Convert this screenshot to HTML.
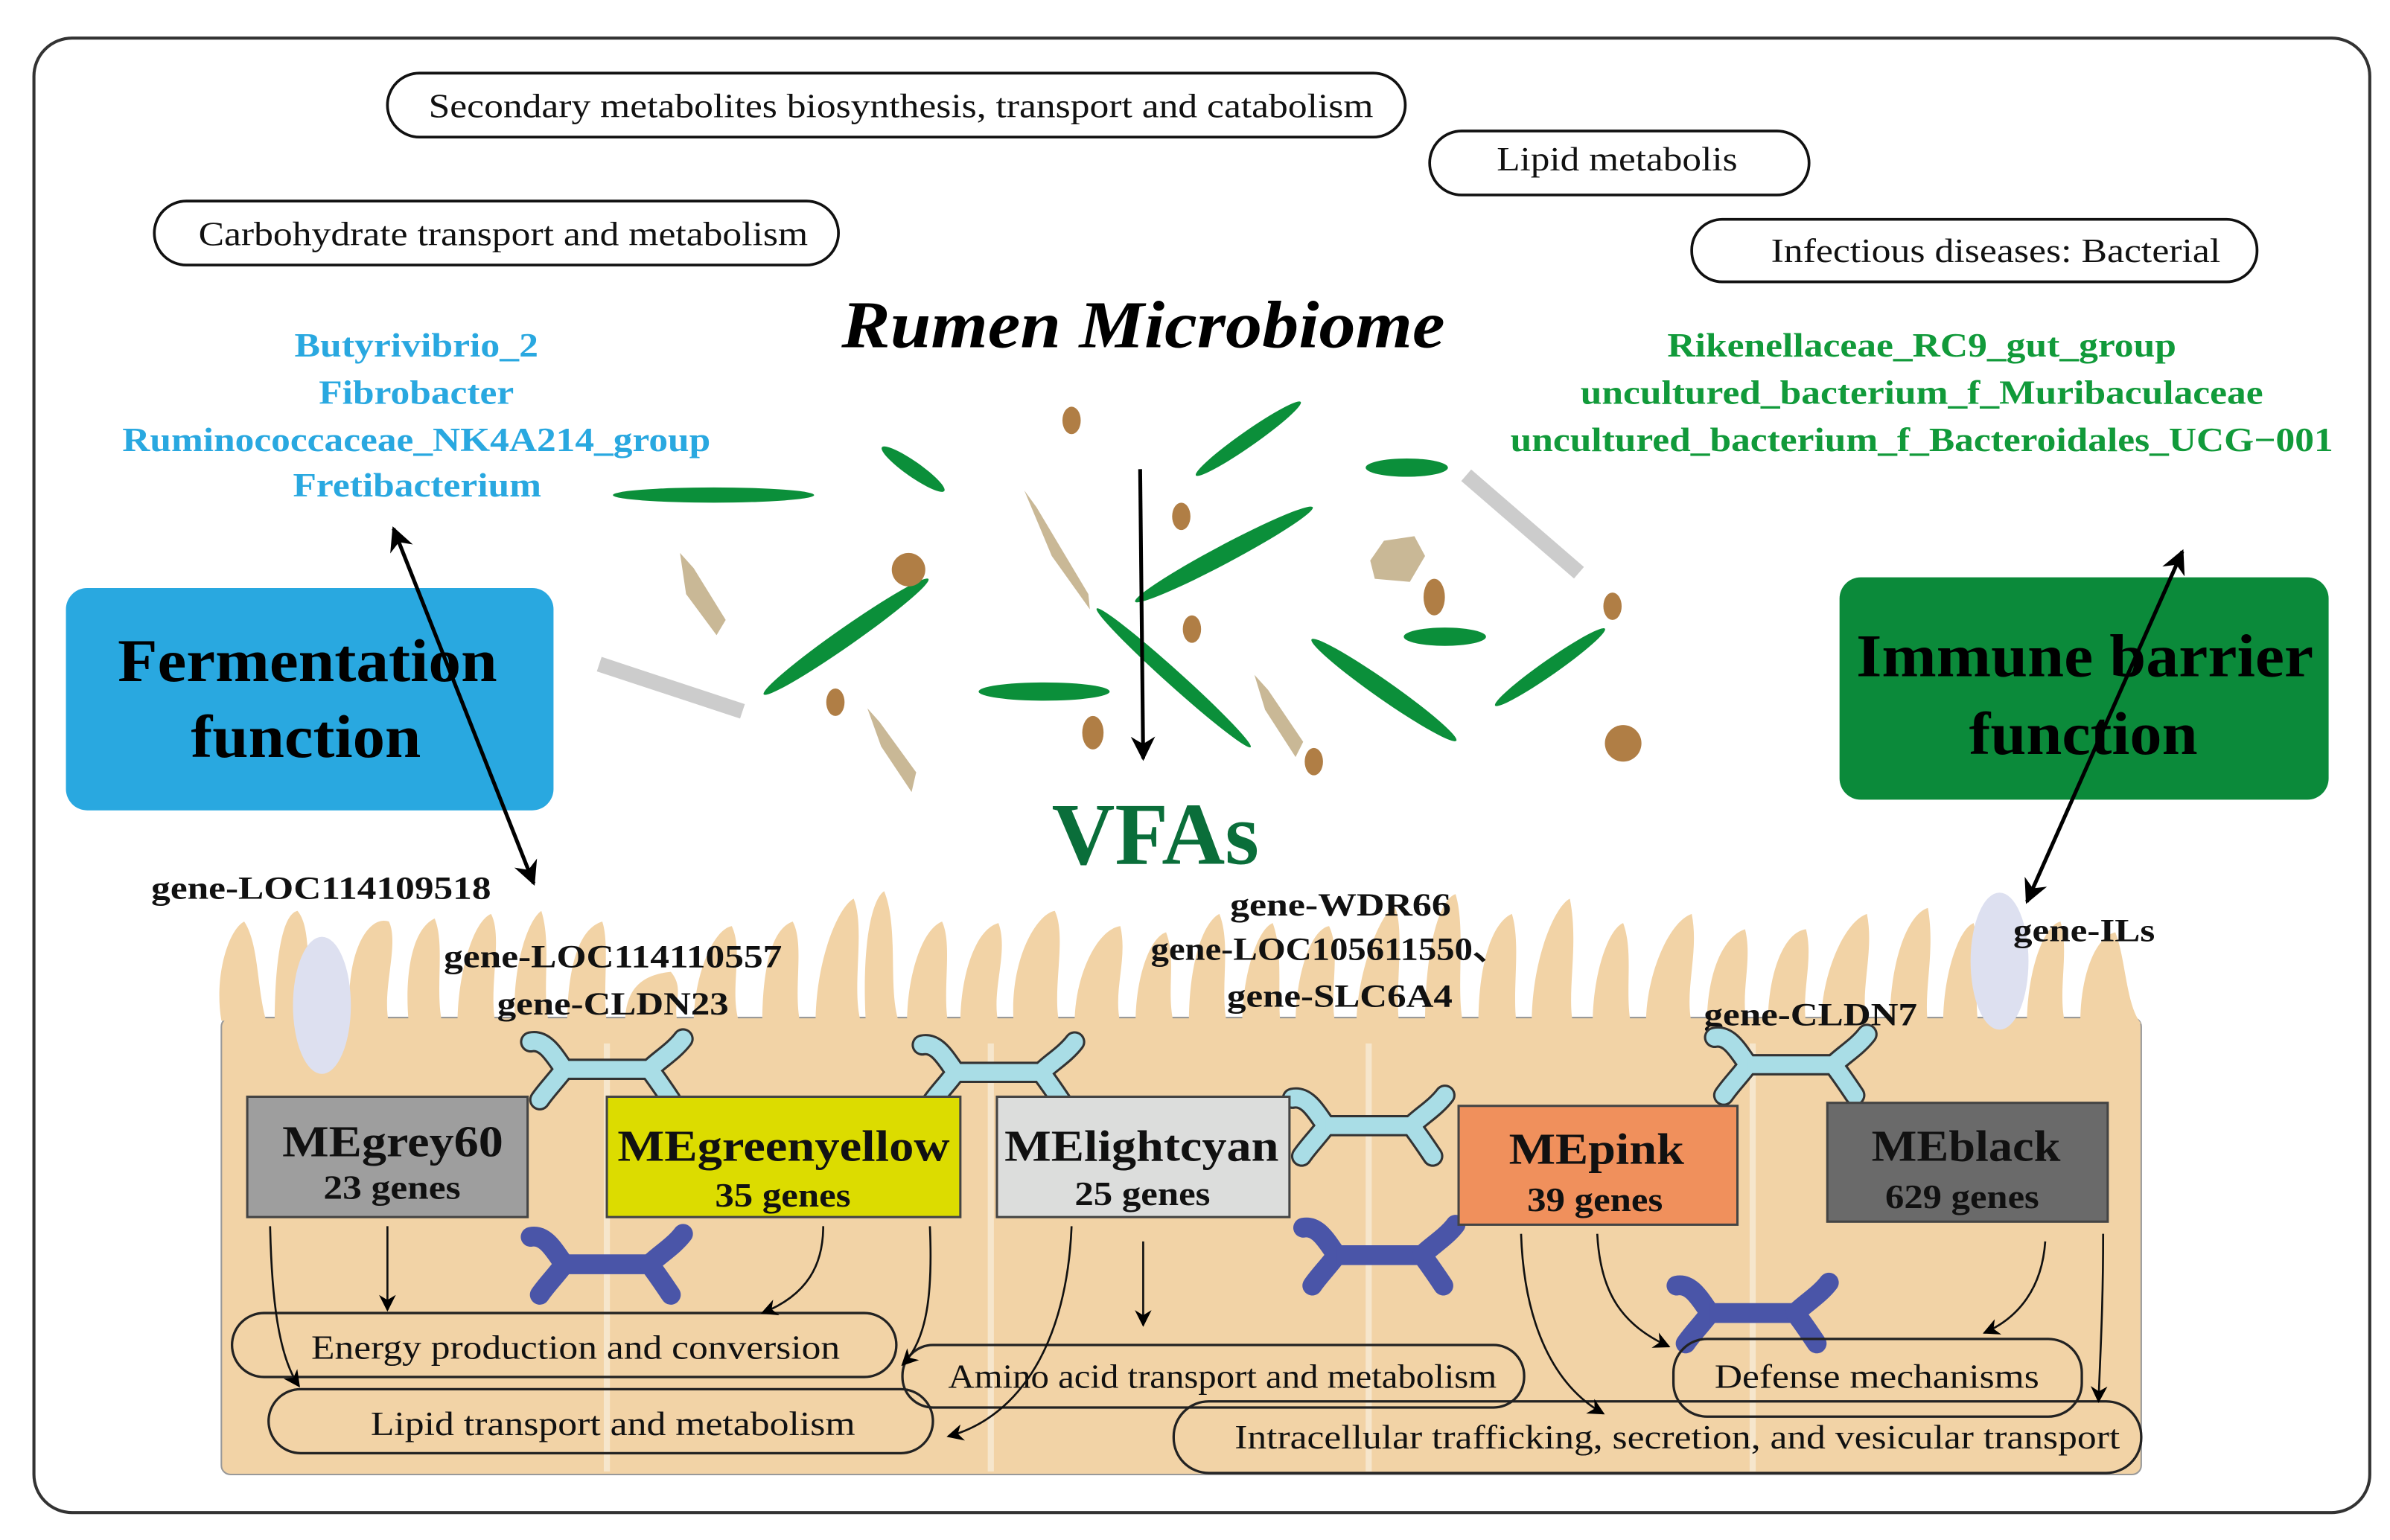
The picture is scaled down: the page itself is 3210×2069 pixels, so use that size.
<!DOCTYPE html>
<html><head><meta charset="utf-8"><style>html,body{margin:0;padding:0;background:#fff}svg{display:block}text{font-family:"Liberation Serif",serif}</style></head><body>
<svg width="3210" height="2069" viewBox="0 0 1568 1011" xmlns="http://www.w3.org/2000/svg" font-family="Liberation Serif, serif">
<defs>
<marker id="ah" viewBox="0 0 10 10" refX="9" refY="5" markerWidth="16" markerHeight="16" markerUnits="userSpaceOnUse" orient="auto-start-reverse"><path d="M0,0 L10,5 L0,10 L3,5z" fill="#000"/></marker>
<marker id="as" viewBox="0 0 10 10" refX="9" refY="5" markerWidth="11" markerHeight="11" markerUnits="userSpaceOnUse" orient="auto"><path d="M0,0 L10,5 L0,10 L3,5z" fill="#000"/></marker>
<g id="cl"><path d="M-50,-18 C-40,-20 -34,-8 -28,0 C-34,8 -40,14 -44,20" fill="none" stroke-linecap="round" stroke-linejoin="round"/><path d="M-28,0 L28,0" fill="none"/><path d="M50,-20 C44,-12 34,-6 28,0 C34,8 38,14 42,20" fill="none" stroke-linecap="round" stroke-linejoin="round"/></g>
</defs>
<rect x="22" y="25" width="1533" height="968" rx="25" fill="#fff" stroke="#333" stroke-width="2"/>
<g fill="none" stroke="#111" stroke-width="1.8">
<rect x="254" y="48" width="668" height="42" rx="21"/>
<rect x="938" y="86" width="249" height="42" rx="21"/>
<rect x="101" y="132" width="449" height="42" rx="21"/>
<rect x="1110" y="144" width="371" height="41" rx="20"/>
</g>
<g font-size="22" fill="#111">
<text x="281" y="77" textLength="620" lengthAdjust="spacingAndGlyphs">Secondary metabolites biosynthesis, transport and catabolism</text>
<text x="982" y="112" textLength="158" lengthAdjust="spacingAndGlyphs">Lipid metabolis</text>
<text x="130" y="161" textLength="400" lengthAdjust="spacingAndGlyphs">Carbohydrate transport and metabolism</text>
<text x="1162" y="172" textLength="295" lengthAdjust="spacingAndGlyphs">Infectious diseases: Bacterial</text>
</g>
<text x="552" y="228" font-size="44" font-weight="bold" font-style="italic" textLength="396" lengthAdjust="spacingAndGlyphs">Rumen Microbiome</text>
<g font-size="22" font-weight="bold" fill="#29a8e0">
<text x="193" y="234" textLength="160" lengthAdjust="spacingAndGlyphs">Butyrivibrio_2</text>
<text x="209" y="265" textLength="128" lengthAdjust="spacingAndGlyphs">Fibrobacter</text>
<text x="80" y="296" textLength="386" lengthAdjust="spacingAndGlyphs">Ruminococcaceae_NK4A214_group</text>
<text x="192" y="326" textLength="163" lengthAdjust="spacingAndGlyphs">Fretibacterium</text>
</g>
<g font-size="22" font-weight="bold" fill="#119a3a">
<text x="1094" y="234" textLength="334" lengthAdjust="spacingAndGlyphs">Rikenellaceae_RC9_gut_group</text>
<text x="1037" y="265" textLength="448" lengthAdjust="spacingAndGlyphs">uncultured_bacterium_f_Muribaculaceae</text>
<text x="991" y="296" textLength="540" lengthAdjust="spacingAndGlyphs">uncultured_bacterium_f_Bacteroidales_UCG−001</text>
</g>
<g fill="#0b8f3a">
<ellipse cx="468" cy="325" rx="66" ry="5"/>
<ellipse cx="599" cy="308" rx="25" ry="5" transform="rotate(35 599 308)"/>
<ellipse cx="819" cy="288" rx="42" ry="5" transform="rotate(-35 819 288)"/>
<ellipse cx="923" cy="307" rx="27" ry="6"/>
<ellipse cx="803" cy="364" rx="66" ry="6" transform="rotate(-28 803 364)"/>
<ellipse cx="555" cy="418" rx="66" ry="6" transform="rotate(-35 555 418)"/>
<ellipse cx="685" cy="454" rx="43" ry="6"/>
<ellipse cx="770" cy="445" rx="68" ry="5" transform="rotate(42 770 445)"/>
<ellipse cx="948" cy="418" rx="27" ry="6"/>
<ellipse cx="908" cy="453" rx="58" ry="6" transform="rotate(35 908 453)"/>
<ellipse cx="1017" cy="438" rx="44" ry="5" transform="rotate(-35 1017 438)"/>
</g>
<g fill="#c9b896">
<polygon points="446,363 455,373 476,407 470,417 450,390"/>
<polygon points="569,465 577,474 601,507 598,520 578,490"/>
<polygon points="672,322 680,333 714,390 715,400 690,365"/>
<polygon points="823,443 832,453 855,487 850,497 830,466"/>
<polygon points="908,355 928,352 935,365 925,382 902,380 899,368"/>
</g>
<g stroke="#ccc" stroke-width="10"><line x1="393" y1="436" x2="487" y2="467"/><line x1="962" y1="312" x2="1036" y2="376"/></g>
<g fill="#b07e45">
<ellipse cx="703" cy="276" rx="6" ry="9"/><ellipse cx="596" cy="374" rx="11" ry="11"/><ellipse cx="775" cy="339" rx="6" ry="9"/>
<ellipse cx="782" cy="413" rx="6" ry="9"/><ellipse cx="548" cy="461" rx="6" ry="9"/><ellipse cx="717" cy="481" rx="7" ry="11"/>
<ellipse cx="941" cy="392" rx="7" ry="12"/><ellipse cx="1058" cy="398" rx="6" ry="9"/><ellipse cx="862" cy="500" rx="6" ry="9"/>
<ellipse cx="1065" cy="488" rx="12" ry="12"/>
</g>
<line x1="748" y1="308" x2="750" y2="498" stroke="#000" stroke-width="2.5" marker-end="url(#ah)"/>
<text x="690" y="567" font-size="58" font-weight="bold" fill="#0a6e3a" textLength="136" lengthAdjust="spacingAndGlyphs">VFAs</text>
<rect x="43" y="386" width="320" height="146" rx="14" fill="#29a8e0"/>
<text x="77" y="447" font-size="40" font-weight="bold" textLength="249" lengthAdjust="spacingAndGlyphs">Fermentation</text>
<text x="125" y="497" font-size="40" font-weight="bold" textLength="151" lengthAdjust="spacingAndGlyphs">function</text>
<rect x="1207" y="379" width="321" height="146" rx="14" fill="#0b8a3a"/>
<text x="1218" y="444" font-size="40" font-weight="bold" textLength="300" lengthAdjust="spacingAndGlyphs">Immune barrier</text>
<text x="1292" y="495" font-size="40" font-weight="bold" textLength="150" lengthAdjust="spacingAndGlyphs">function</text>
<line x1="258" y1="347" x2="350" y2="580" stroke="#000" stroke-width="2.5" marker-start="url(#ah)" marker-end="url(#ah)"/>
<line x1="1432" y1="362" x2="1330" y2="592" stroke="#000" stroke-width="2.5" marker-start="url(#ah)" marker-end="url(#ah)"/>
<g fill="#f2d3a6">
<rect x="145" y="668" width="1260" height="300" rx="6" stroke="#999" stroke-width="1"/>
<path d="M145,670 C140,640 150,610 160,605 C170,620 168,650 175,672 Z"/>
<path d="M180,672 C180,630 185,600 195,598 C205,610 200,640 205,672Z"/>
<path d="M230,672 C225,630 240,600 255,605 C262,620 250,650 255,672Z"/>
<path d="M268,672 C265,640 270,610 285,603 C292,620 285,650 290,672Z"/>
<path d="M300,672 C300,640 310,605 322,600 C330,615 320,650 325,672Z"/>
<path d="M338,672 C335,640 345,605 355,598 C362,620 355,650 360,672Z"/>
<path d="M372,672 C372,640 378,610 395,605 C400,620 395,650 398,672Z"/>
<path d="M410,672 C410,650 420,640 440,638 C450,650 440,660 445,672Z"/>
<path d="M455,672 C455,640 468,610 480,608 C488,625 478,650 485,672Z"/>
<path d="M500,672 C500,640 505,610 520,605 C528,620 520,650 525,672Z"/>
<path d="M535,672 C535,630 550,595 560,590 C568,610 558,650 565,672Z"/>
<path d="M568,672 C565,620 572,590 580,585 C590,610 582,650 590,672Z"/>
<path d="M595,672 C595,640 605,610 618,605 C625,620 618,650 622,672Z"/>
<path d="M630,672 C630,640 640,610 655,606 C662,625 650,650 655,672Z"/>
<path d="M665,672 C662,630 680,600 692,598 C700,615 690,650 695,672Z"/>
<path d="M705,672 C705,640 720,610 735,608 C740,630 730,650 735,672Z"/>
<path d="M745,672 C745,640 755,615 765,612 C772,630 765,650 770,672Z"/>
<path d="M780,672 C780,630 790,605 800,600 C808,620 800,650 805,672Z"/>
<path d="M815,672 C815,640 825,610 835,606 C842,625 838,650 840,672Z"/>
<path d="M850,672 C850,640 860,610 872,608 C880,625 872,650 876,672Z"/>
<path d="M890,672 C890,640 905,600 915,595 C922,610 915,650 918,672Z"/>
<path d="M935,672 C935,620 945,590 955,587 C962,610 955,650 960,672Z"/>
<path d="M970,672 C970,630 980,605 992,600 C998,620 992,650 995,672Z"/>
<path d="M1005,672 C1005,630 1020,595 1030,590 C1036,620 1028,650 1032,672Z"/>
<path d="M1045,672 C1045,640 1055,610 1065,606 C1072,625 1066,650 1070,672Z"/>
<path d="M1080,672 C1080,640 1095,605 1110,600 C1115,625 1105,650 1110,672Z"/>
<path d="M1120,672 C1120,640 1130,615 1145,610 C1150,630 1142,650 1146,672Z"/>
<path d="M1160,672 C1160,640 1170,612 1185,610 C1190,630 1182,650 1185,672Z"/>
<path d="M1195,672 C1195,640 1210,605 1225,600 C1230,625 1220,650 1225,672Z"/>
<path d="M1240,672 C1240,630 1252,600 1265,596 C1270,625 1262,650 1265,672Z"/>
<path d="M1275,672 C1275,640 1285,610 1295,606 C1300,625 1295,650 1298,672Z"/>
<path d="M1330,672 C1330,640 1340,608 1352,605 C1358,625 1350,650 1355,672Z"/>
<path d="M1365,672 C1365,640 1375,615 1388,612 C1395,630 1395,660 1405,672Z"/>
</g>
<g stroke="#f6e6cc" stroke-width="4"><line x1="398" y1="685" x2="398" y2="966"/><line x1="650" y1="685" x2="650" y2="966"/><line x1="898" y1="685" x2="898" y2="966"/><line x1="1150" y1="685" x2="1150" y2="966"/></g>
<ellipse cx="211" cy="660" rx="19" ry="45" fill="#dde0f0"/>
<ellipse cx="1312" cy="631" rx="19" ry="45" fill="#dde0f0"/>
<g font-size="21" font-weight="bold" fill="#111">
<text x="99" y="590" textLength="223" lengthAdjust="spacingAndGlyphs">gene-LOC114109518</text>
<text x="291" y="635" textLength="222" lengthAdjust="spacingAndGlyphs">gene-LOC114110557</text>
<text x="326" y="666" textLength="152" lengthAdjust="spacingAndGlyphs">gene-CLDN23</text>
<text x="807" y="601" textLength="145" lengthAdjust="spacingAndGlyphs">gene-WDR66</text>
<text x="755" y="630" textLength="235" lengthAdjust="spacingAndGlyphs">gene-LOC105611550、</text>
<text x="805" y="661" textLength="148" lengthAdjust="spacingAndGlyphs">gene-SLC6A4</text>
<text x="1118" y="673" textLength="140" lengthAdjust="spacingAndGlyphs">gene-CLDN7</text>
<text x="1321" y="618" textLength="93" lengthAdjust="spacingAndGlyphs">gene-ILs</text>
</g>
<g stroke="#333" stroke-width="14"><use href="#cl" transform="translate(398,702)"/><use href="#cl" transform="translate(655,704)"/><use href="#cl" transform="translate(898,739)"/><use href="#cl" transform="translate(1175,699)"/></g>
<g stroke="#a9dde6" stroke-width="11"><use href="#cl" transform="translate(398,702)"/><use href="#cl" transform="translate(655,704)"/><use href="#cl" transform="translate(898,739)"/><use href="#cl" transform="translate(1175,699)"/></g>
<g stroke="#4a55a8" stroke-width="13"><use href="#cl" transform="translate(398,830)"/><use href="#cl" transform="translate(905,824)"/><use href="#cl" transform="translate(1150,862)"/></g>
<g stroke="#444" stroke-width="1.5">
<rect x="162" y="720" width="184" height="79" fill="#9e9e9e"/>
<rect x="398" y="720" width="232" height="79" fill="#dcdc00"/>
<rect x="654" y="720" width="192" height="79" fill="#dcdddc"/>
<rect x="957" y="726" width="183" height="78" fill="#f0905c"/>
<rect x="1199" y="724" width="184" height="78" fill="#6a6a6a"/>
</g>
<g font-weight="bold" fill="#111">
<text x="185" y="759" font-size="29" textLength="145" lengthAdjust="spacingAndGlyphs">MEgrey60</text>
<text x="212" y="787" font-size="22" textLength="90" lengthAdjust="spacingAndGlyphs">23 genes</text>
<text x="405" y="762" font-size="29" textLength="218" lengthAdjust="spacingAndGlyphs">MEgreenyellow</text>
<text x="469" y="792" font-size="22" textLength="89" lengthAdjust="spacingAndGlyphs">35 genes</text>
<text x="659" y="762" font-size="29" textLength="180" lengthAdjust="spacingAndGlyphs">MElightcyan</text>
<text x="705" y="791" font-size="22" textLength="89" lengthAdjust="spacingAndGlyphs">25 genes</text>
<text x="990" y="764" font-size="29" textLength="115" lengthAdjust="spacingAndGlyphs">MEpink</text>
<text x="1002" y="795" font-size="22" textLength="89" lengthAdjust="spacingAndGlyphs">39 genes</text>
<text x="1228" y="762" font-size="29" textLength="124" lengthAdjust="spacingAndGlyphs">MEblack</text>
<text x="1237" y="793" font-size="22" textLength="101" lengthAdjust="spacingAndGlyphs">629 genes</text>
</g>
<g fill="none" stroke="#222" stroke-width="1.6">
<rect x="152" y="862" width="436" height="42" rx="21"/>
<rect x="176" y="912" width="436" height="42" rx="21"/>
<rect x="592" y="883" width="408" height="41" rx="20"/>
<rect x="1098" y="879" width="268" height="51" rx="22"/>
<rect x="770" y="920" width="635" height="47" rx="23"/>
</g>
<g font-size="22" fill="#111">
<text x="204" y="892" textLength="347" lengthAdjust="spacingAndGlyphs">Energy production and conversion</text>
<text x="243" y="942" textLength="318" lengthAdjust="spacingAndGlyphs">Lipid transport and metabolism</text>
<text x="622" y="911" textLength="360" lengthAdjust="spacingAndGlyphs">Amino acid transport and metabolism</text>
<text x="1125" y="911" textLength="213" lengthAdjust="spacingAndGlyphs">Defense mechanisms</text>
<text x="810" y="951" textLength="581" lengthAdjust="spacingAndGlyphs">Intracellular trafficking, secretion, and vesicular transport</text>
</g>
<g fill="none" stroke="#111" stroke-width="1.3" marker-end="url(#as)">
<path d="M177,805 C178,850 182,890 196,910"/>
<path d="M254,805 L254,860"/>
<path d="M540,805 C540,830 530,850 500,862"/>
<path d="M610,805 C612,850 608,880 592,896"/>
<path d="M703,805 C700,880 670,930 622,943"/>
<path d="M750,815 L750,870"/>
<path d="M998,810 C1000,870 1020,910 1052,928"/>
<path d="M1048,810 C1050,850 1065,870 1095,884"/>
<path d="M1342,815 C1340,845 1325,865 1302,875"/>
<path d="M1380,810 C1380,860 1378,890 1377,920"/>
</g>
</svg>
</body></html>
